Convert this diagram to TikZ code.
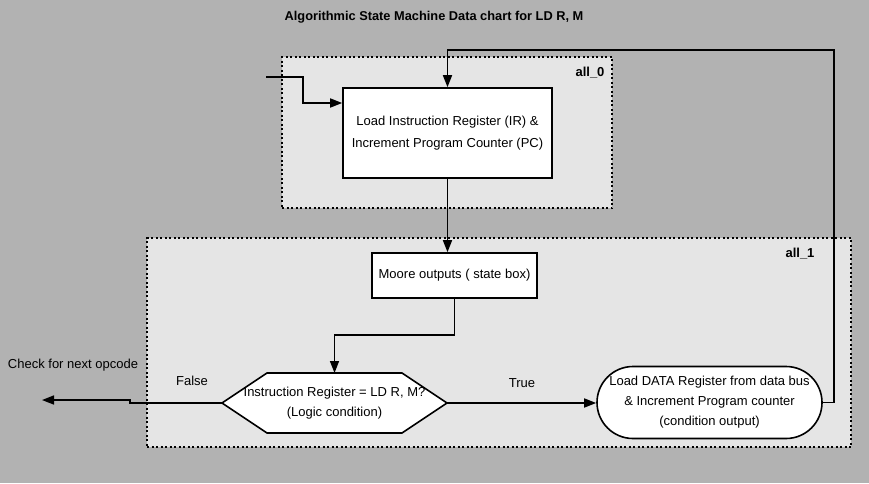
\documentclass[tikz,border=0pt]{standalone}
\usepackage{fontspec}
\setmainfont{Liberation Sans}
\usetikzlibrary{arrows.meta,shapes.misc}
\definecolor{pagegrey}{RGB}{178,178,178}
\definecolor{zonegrey}{RGB}{229,229,229}
\newcommand{\txt}{\fontsize{13}{20}\selectfont}
\begin{document}
\begin{tikzpicture}[x=1pt,y=-1pt,
   zone/.style={draw,fill=zonegrey,line width=1.6pt,dash pattern=on 2pt off 2.5pt,inner sep=0pt},
   statebox/.style={draw,fill=white,line width=1.6pt,align=center,font=\txt,inner sep=0pt},
   condout/.style={statebox,rounded rectangle},
   flow/.style={line width=1.6pt,-{Triangle[length=12pt,width=9pt]}},
   tag/.style={font=\txt},
   zonetag/.style={font=\fontsize{13}{15}\selectfont\bfseries}]
   \fill[pagegrey] (0,0) rectangle (869,483);
   \useasboundingbox (0,0) rectangle (869,483);
   \node[font=\fontsize{12.8}{15}\selectfont\bfseries] (title) at (434,17)
      {Algorithmic State Machine Data chart for LD R, M};
   \node[zone,minimum width=330,minimum height=151] (all0) at (447,132.5) {};
   \node[zone,minimum width=704,minimum height=209] (all1) at (499,342.5) {};
   \node[zonetag] (all0tag) at (590,73) {all\_0};
   \node[zonetag] (all1tag) at (800,254) {all\_1};
   \node[statebox,minimum width=209,minimum height=90,font=\fontsize{13}{22}\selectfont] (ir) at (447.5,133)
      {Load Instruction Register (IR) \&\\Increment Program Counter (PC)};
   \node[statebox,minimum width=165,minimum height=45] (moore) at (454.5,275.5)
      {Moore outputs ( state box)};
   \draw[fill=white,line width=1.6pt] (222,403) -- (267,373) -- (402,373)
      -- (447,403) -- (402,433) -- (267,433) -- cycle;
   \coordinate (condN) at (334.5,373);
   \coordinate (condW) at (222,403);
   \coordinate (condE) at (447,403);
   \node[align=center,font=\txt] (cond) at (334.5,403)
      {Instruction Register = LD R, M?\\(Logic condition)};
   \node[condout,minimum width=225,minimum height=72] (data) at (709.5,402.5)
      {Load DATA Register from data bus\\\& Increment Program counter\\(condition output)};
   \coordinate (in) at (266,77);
   \coordinate (out) at (42,400);
   \node[tag] (check) at (73,365) {Check for next opcode};
   \node[tag] (false) at (192,381) {False};
   \node[tag] (true) at (522,383) {True};
   \draw[flow] (in) -- (303,77) -- (303,103) -- (ir.west |- 0,103);
   \draw[flow] (data.east) -| (834,50) -| (ir.north);
   \draw[flow] (ir.south) -- (ir.south |- moore.north);
   \draw[flow] (moore.south) -- ++(0,36) -| (condN);
   \draw[flow] (condE) -- (condE -| data.west);
   \draw[flow] (condW) -- (130,403) -- (130,400) -- (out);
\end{tikzpicture}
\end{document}
